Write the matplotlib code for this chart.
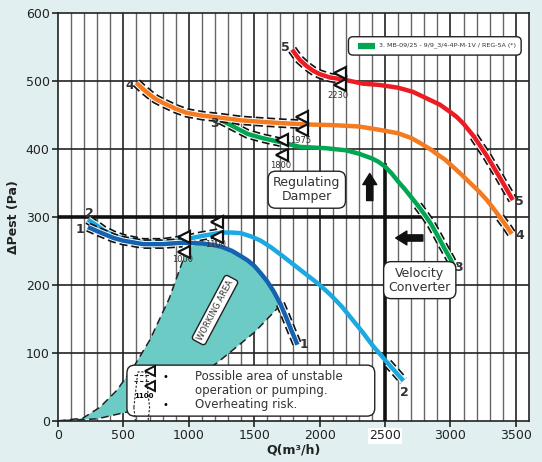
import matplotlib
matplotlib.use('Agg')
import matplotlib.pyplot as plt
from matplotlib.patches import Polygon, FancyBboxPatch, RegularPolygon
import numpy as np

# fan curves, Q in m3/h, dP in Pa
q1 = [230, 300, 350, 425, 500, 650, 800, 950, 1100, 1180, 1250, 1330, 1400, 1450, 1500, 1550, 1600, 1650, 1700, 1740, 1780, 1830]
p1 = [285, 279, 275, 269, 265, 260, 260, 262, 261, 259, 256, 250, 242, 236, 228, 217, 205, 190, 172, 154, 135, 112]

q2 = [230, 300, 350, 425, 500, 650, 800, 950, 1100, 1250, 1330, 1400, 1480, 1550, 1630, 1720, 1800, 1900, 2000, 2080, 2170, 2250, 2330, 2400, 2520, 2640]
p2 = [296, 287, 280, 273, 268, 262, 262, 266, 272, 277, 277, 276, 271, 265, 255, 242, 230, 215, 200, 186, 168, 149, 130, 112, 85, 59]

q3 = [1240, 1300, 1350, 1450, 1560, 1700, 1850, 2050, 2200, 2300, 2400, 2450, 2500, 2550, 2600, 2650, 2700, 2750, 2800, 2850, 2900, 2950, 3000, 3030]
p3 = [443, 437, 432, 422, 416, 410, 403, 401, 398, 393, 386, 381, 374, 364, 352, 341, 329, 317, 304, 290, 273, 255, 238, 226]

q4 = [600, 650, 700, 750, 800, 900, 985, 1100, 1240, 1400, 1543, 1700, 1900, 2100, 2300, 2460, 2600, 2700, 2765, 2850, 2900, 2960, 3017, 3080, 3150, 3220, 3277, 3330, 3380, 3430, 3468]
p4 = [497, 488, 480, 473, 468, 459, 453, 449, 446, 442, 440, 438, 436, 435, 433, 428, 423, 416, 409, 399, 392, 384, 374, 363, 350, 337, 325, 312, 299, 286, 275]

q5 = [1790, 1820, 1848, 1900, 1950, 2000, 2080, 2150, 2207, 2330, 2460, 2600, 2712, 2800, 2920, 3000, 3048, 3100, 3180, 3277, 3380, 3476]
p5 = [546, 538, 531, 522, 515, 510, 505, 503, 501, 496, 494, 490, 484, 476, 465, 454, 447, 437, 418, 390, 357, 325]

# working area outline
wa_upper_q = [0, 190, 320, 450, 580, 702, 850, 990]
wa_upper_p = [0, 4, 20, 45, 80, 119, 180, 255]
wa_lower_q = [1700, 1500, 1214, 1000, 800, 550, 300, 0]
wa_lower_p = [170, 130, 85, 58, 33, 14, 3, 0]

# stall markers: (Q, upper dP, lower dP, label dP, label)
marks = [(1000, 271, 248, 237, '1000'),
         (1255, 293, 271, 259, '1100'),
         (1750, 413, 391, 376, '1800'),
         (1902, 447, 428, 413, '1975'),
         (2192, 512, 494, 478, '2230')]

# operating point
q_op = 2500
p_op = 300

c1 = '#1462b0'
c2 = '#1ba9e1'
c3 = '#00a651'
c4 = '#f47b20'
c5 = '#ed1c24'
teal = '#6dcbc6'
bg = '#e1eff1'

fig = plt.figure(figsize=(5.42, 4.62), dpi=100, facecolor=bg)
ax = fig.add_axes([0.107, 0.089, 0.869, 0.883])
ax.set_xlim(0, 3600)
ax.set_ylim(0, 600)
ax.set_facecolor('white')
asp = (600 / 408) / (3600 / 471)

# grid
for x in range(100, 3600, 100):
    if x % 500 == 0:
        ax.axvline(x, color='#222222', lw=1.2, zorder=1)
    else:
        ax.axvline(x, color='#666666', lw=1.0, zorder=1)
for y in range(100, 600, 100):
    ax.axhline(y, color='#222222', lw=1.2, zorder=1)

# working area
poly = list(zip(wa_upper_q, wa_upper_p))
poly += [(q, p) for q, p in zip(q1, p1) if 1000 <= q <= 1700]
poly += list(zip(wa_lower_q, wa_lower_p))
ax.add_patch(Polygon(poly, closed=True, facecolor=teal, edgecolor='none', zorder=2))
ax.plot(wa_upper_q, wa_upper_p, color='#222222', lw=1.1, ls=(0, (5, 3)), zorder=3)
ax.plot(wa_lower_q, wa_lower_p, color='#222222', lw=1.1, ls=(0, (5, 3)), zorder=3)

# operating point lines
ax.plot([0, 2805], [p_op, p_op], color='#111111', lw=2.6, zorder=3)
ax.plot([q_op, q_op], [0, 376], color='#111111', lw=2.6, zorder=3)


def draw_curve(q, p, color, ranges, z):
    q = np.array(q)
    p = np.array(p)
    for a, b in ranges:
        m = (q >= a) & (q <= b)
        ax.plot(q[m], p[m], color='#111111', lw=7.0, ls=(0, (0.8, 0.4)),
                solid_capstyle='butt', zorder=z)
        ax.plot(q[m], p[m], color='white', lw=4.6, solid_capstyle='butt', zorder=z + 0.1)
    ax.plot(q, p, color=color, lw=3.2, solid_capstyle='butt', solid_joinstyle='round',
            zorder=z + 0.2)


draw_curve(q2, p2, c2, [(230, 1270), (2450, 2640)], 4)
draw_curve(q1, p1, c1, [(230, 1000), (1700, 1830)], 5)
draw_curve(q3, p3, c3, [(1240, 1800), (2740, 3030)], 6)
draw_curve(q4, p4, c4, [(600, 1950), (3360, 3468)], 7)
draw_curve(q5, p5, c5, [(1790, 2230), (3180, 3476)], 8)

for q, pu, pl, pt, lab in marks:
    ax.plot([q - 40, q - 40], [pu, pl], ls='none', marker='<', ms=9, mfc='white',
            mec='#111111', mew=1.6, zorder=9)
    ax.text(q - 50, pt, lab, fontsize=6, ha='center', va='center', color='#333333', zorder=9)

# curve numbers
nums = [('1', 170, 282), ('1', 1880, 112), ('2', 240, 305), ('2', 2650, 42),
        ('3', 1200, 437), ('3', 3060, 225), ('4', 550, 493), ('4', 3530, 273),
        ('5', 1740, 549), ('5', 3530, 322)]
for t, x, y in nums:
    ax.text(x, y, t, fontsize=9, fontweight='bold', color='#333333', ha='center', va='center', zorder=10)

# annotation boxes
bbox = dict(boxstyle='round,pad=0.4,rounding_size=0.6', fc='white', ec='#222222', lw=1.0)
ax.text(1902, 340, 'Regulating\nDamper', fontsize=9, ha='center', va='center',
        color='#333333', bbox=bbox, zorder=10, linespacing=1.1)
ax.text(2765, 207, 'Velocity\nConverter', fontsize=9, ha='center', va='center',
        color='#333333', bbox=bbox, zorder=10, linespacing=1.1)
ax.text(1200, 163, 'WORKING AREA', fontsize=6, rotation=62, ha='center', va='center',
        color='#333333', zorder=10,
        bbox=dict(boxstyle='round,pad=0.35', fc='white', ec='#222222', lw=1.0))

# arrows
ax.annotate('', xy=(2383, 368), xytext=(2383, 320),
            arrowprops=dict(arrowstyle='simple,head_width=1.0,head_length=0.8,tail_width=0.45',
                            fc='#111111', ec='#111111'), zorder=10)
ax.annotate('', xy=(2560, 269), xytext=(2810, 269),
            arrowprops=dict(arrowstyle='simple,head_width=1.0,head_length=0.8,tail_width=0.45',
                            fc='#111111', ec='#111111'), zorder=10)

# legend for curve 3
leg = FancyBboxPatch((2220, 538), 1320, 27, boxstyle='round,pad=0,rounding_size=35',
                     mutation_aspect=asp, fc='white', ec='#222222', lw=1.0, zorder=10)
ax.add_patch(leg)
ax.plot([2290, 2420], [552, 552], color=c3, lw=4.5, solid_capstyle='butt', zorder=11)
ax.text(2450, 552, '3. MB-09/25 - 9/9_3/4-4P-M-1V / REG-5A (*)', fontsize=4.6,
        va='center', color='#333333', zorder=11)

# notes box
note = FancyBboxPatch((527, 7), 1894, 75, boxstyle='round,pad=0,rounding_size=60',
                      mutation_aspect=asp, fc='white', ec='#222222', lw=1.0, zorder=10)
ax.add_patch(note)
ax.plot([580, 710], [68, 68], color='#222222', lw=0.8, ls=(0, (3, 2)), zorder=11)
ax.plot([580, 710], [58, 58], color='#222222', lw=0.8, ls=(0, (3, 2)), zorder=11)
ax.plot([700, 700], [73, 52], ls='none', marker='<', ms=7, mfc='white', mec='#111111',
        mew=1.4, zorder=12)
ax.text(660, 36, '1100', fontsize=5, fontweight='bold', ha='center', va='center', zorder=12)
ax.add_patch(RegularPolygon((640, 20), 6, radius=60, orientation=np.pi / 2, fc='none',
                            ec='#222222', lw=0.8, ls=(0, (2, 1.5)), zorder=11))
ax.text(825, 65, '•', fontsize=7, ha='center', va='center', zorder=11)
ax.text(825, 24, '•', fontsize=7, ha='center', va='center', zorder=11)
ax.text(1047, 65, 'Possible area of unstable', fontsize=8.5, va='center', color='#333333', zorder=11)
ax.text(1047, 44, 'operation or pumping.', fontsize=8.5, va='center', color='#333333', zorder=11)
ax.text(1047, 24, 'Overheating risk.', fontsize=8.5, va='center', color='#333333', zorder=11)

# axes
ax.set_xticks(range(0, 3600, 500))
ax.set_yticks(range(0, 700, 100))
ax.tick_params(labelsize=9, colors='#222222', length=4, width=1.2, pad=2)
for lab in ax.get_xticklabels():
    if lab.get_text() == '2500':
        lab.set_bbox(dict(fc='white', ec='none', pad=1))
for s in ax.spines.values():
    s.set_color('#222222')
    s.set_linewidth(1.2)
ax.set_xlabel('Q(m³/h)', fontsize=9, fontweight='bold', color='#222222', labelpad=1)
ax.set_ylabel('ΔPest (Pa)', fontsize=9, fontweight='bold', color='#222222', labelpad=4)

fig.savefig('out.png', dpi=100, facecolor=bg)
